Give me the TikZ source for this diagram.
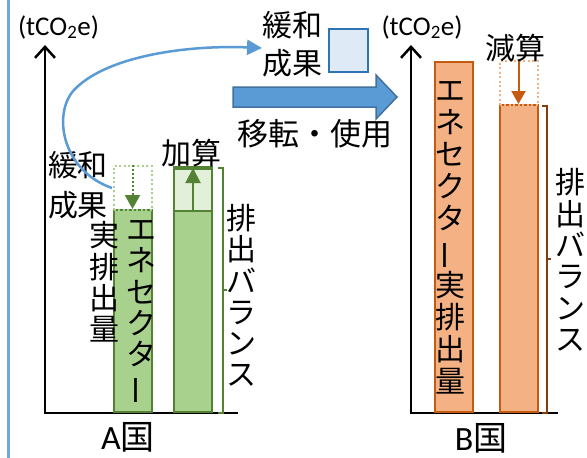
\documentclass[tikz,border=0pt]{standalone}
\usepackage{fontspec}
\setmainfont{Noto Sans CJK JP}
\newfontfamily\lat{Carlito}
\usetikzlibrary{arrows.meta}
\definecolor{gfill}{HTML}{A9D18E}
\definecolor{gline}{HTML}{548235}
\definecolor{glight}{HTML}{E2F0D9}
\definecolor{ofill}{HTML}{F4B183}
\definecolor{oline}{HTML}{C55A11}
\definecolor{obrace}{HTML}{843C0C}
\definecolor{bfill}{HTML}{5B9BD5}
\definecolor{bline}{HTML}{41719C}
\definecolor{blight}{HTML}{DEEBF7}
\definecolor{bbox}{HTML}{2E75B6}
\definecolor{sideline}{HTML}{6FA8DC}
\newcommand{\vbarchar}{\rotatebox[origin=c]{90}{ー}}
\begin{document}
\begin{tikzpicture}[x=1pt,y=-1pt,
  lbl/.style={inner sep=0pt, font=\fontsize{30}{40}\selectfont, align=center},
  vlbl/.style={inner sep=0pt, font=\fontsize{30}{31.3}\selectfont, align=center},
  unitlbl/.style={inner sep=0pt, font=\lat\fontsize{27}{27}\selectfont},
  ctrylbl/.style={inner sep=0pt, font=\fontsize{34}{34}\selectfont, anchor=base},
  axisline/.style={line width=2.5pt, {Straight Barb[length=11pt,width=20pt]}-},
  barA/.style={draw=gline, fill=gfill, line width=2pt, inner sep=0pt, minimum width=38pt},
  lightA/.style={draw=gline, fill=glight, line width=2pt, inner sep=0pt, minimum width=38pt},
  dotA/.style={draw=gfill, line width=2pt, dash pattern=on 2pt off 2.5pt, inner sep=0pt, minimum width=38pt},
  barB/.style={draw=oline, fill=ofill, line width=2pt, inner sep=0pt, minimum width=38pt},
  dotB/.style={draw=ofill, line width=2pt, dash pattern=on 2pt off 2.5pt, inner sep=0pt, minimum width=38pt},
  garrow/.style={draw=gline, line width=2pt, -{Triangle[length=15pt,width=15pt]}},
  gdarrow/.style={draw=gline, line width=2pt, dash pattern=on 2pt off 2pt, -{Triangle[length=14pt,width=15pt]}},
  oarrow/.style={draw=oline, line width=2pt, -{Triangle[length=13pt,width=14pt]}},
  bracketA/.style={draw=gline, line width=2pt},
  bracketB/.style={draw=obrace, line width=2pt},
  curvearrow/.style={draw=bfill, line width=2.5pt, -{Triangle[length=15pt,width=15pt]}}
]
\useasboundingbox (0,0) rectangle (587,458);
\fill[white] (0,0) rectangle (587,458);

% left side line
\draw[sideline, line width=3pt] (8,0) -- (8,458);

% ---------- country A ----------
\coordinate (oA) at (45,413);
\coordinate (yA) at (45,45);
\coordinate (xA) at (238,413);
\draw[axisline] (yA) -- (oA) -- (xA);
\node[unitlbl] (uA) at (58.5,27) {(tCO\textsubscript{2}e)};

\node[barA, minimum height=202pt, anchor=south west] (a1) at (112.5,413) {};
\node[dotA, minimum height=44pt, anchor=south west] (a1d) at (112.5,211) {};
\node[barA, minimum height=245pt, anchor=south west] (a2) at (173,413) {};
\node[lightA, minimum height=42pt, anchor=north west] (a2t) at (173,168) {};
\draw[gdarrow] (a1d.north) -- (a1.north);
\draw[garrow] (a2t.south) -- (a2t.north);

\draw[bracketA] (218,168) -- (223,168) -- (223,413) -- (218,413);
\draw[bracketA] (223,290) -- (227,290);

\node[lbl] (mitA) at (78,185) {緩和\\成果};
\node[lbl] (addA) at (191,153) {加算};
\node[vlbl] (actA) at (104,282) {実\\排\\出\\量};
\node[vlbl] (eneA) at (141.5,313) {エ\\ネ\\セ\\ク\\タ\\\vbarchar};
\node[vlbl] (balA) at (241,295.5) {排\\出\\バ\\ラ\\ン\\ス};
\node[ctrylbl] (cA) at (128,449) {{\lat A}国};

% ---------- transfer ----------
\coordinate (cs) at (112,188);
\coordinate (ce) at (262,48);
\draw[curvearrow] (cs) .. controls (60,170) and (52,110) .. (76,88)
                       .. controls (110,55) and (190,45) .. (ce);
\node[lbl, font=\fontsize{30}{38}\selectfont] (mitT) at (292.5,44) {緩和\\成果};
\node[draw=bbox, fill=blight, line width=2pt, inner sep=0pt, minimum width=39pt, minimum height=43pt, anchor=north west] (mbox) at (328,28) {};
\draw[draw=bline, fill=bfill, line width=1.5pt] (233,87) -- (376,87) -- (376,75) -- (397,97) -- (376,119) -- (376,107) -- (233,107) -- cycle;
\node[lbl, font=\fontsize{31}{31}\selectfont] (move) at (314.5,133.5) {移転・使用};

% ---------- country B ----------
\coordinate (oB) at (411,413);
\coordinate (yB) at (411,45);
\coordinate (xB) at (558,413);
\draw[axisline] (yB) -- (oB) -- (xB);
\node[unitlbl] (uB) at (422,27) {(tCO\textsubscript{2}e)};

\node[barB, minimum height=350pt, anchor=south west] (b1) at (433.5,413) {};
\node[barB, minimum height=307pt, anchor=south west] (b2) at (498.5,413) {};
\node[dotB, minimum height=44pt, anchor=south west] (b2d) at (498.5,106) {};
\draw[oarrow] (b2d.north) -- (b2.north);

\draw[bracketB] (542,106) -- (547,106) -- (547,413) -- (542,413);
\draw[bracketB] (547,259) -- (551,259);

\node[lbl] (subB) at (515,48) {減算};
\node[vlbl, font=\fontsize{30}{32}\selectfont] (eneB) at (450,238) {エ\\ネ\\セ\\ク\\タ\\\vbarchar\\実\\排\\出\\量};
\node[vlbl] (balB) at (570,260) {排\\出\\バ\\ラ\\ン\\ス};
\node[ctrylbl] (cB) at (481,450) {{\lat B}国};
\end{tikzpicture}
\end{document}
